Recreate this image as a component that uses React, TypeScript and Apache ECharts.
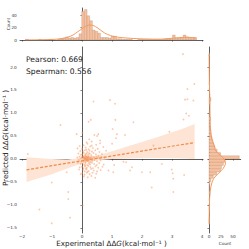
import React, { useEffect, useRef } from "react";
import * as echarts from "echarts";

const FONT = "DejaVu Sans";

const xTicks = [-2, -1, 0, 1, 2, 3, 4];
const yTicks = [-1.5, -1, -0.5, 0, 0.5, 1, 1.5, 2];
const topCountTicks = [0, 20, 40];
const rightCountTicks = [0, 25, 50];

const pearson = 0.669;
const spearman = 0.556;

// marginal histogram of experimental values (top)
const xBinStart = -1.88;
const xBinWidth = 0.089;
const xHistCounts = [
  1, 0, 0, 0, 0, 1, 0, 0, 0, 1, 0, 0, 1, 2, 3, 5, 3, 4, 3, 4, 10,
  46, 49, 39, 31, 16, 14, 11, 4, 4, 4, 3, 6, 6, 2, 2, 1, 1, 1, 1, 0, 0,
  1, 1, 1, 1, 1, 1, 1, 1, 1, 1, 2, 2, 2, 8, 3, 3, 4, 8, 5, 4, 4, 4, 0,
];

// marginal histogram of predicted values (right)
const yBinStart = -1.4;
const yBinWidth = 0.07;
const yHistCounts = [
  1, 1, 0, 0, 1, 1, 0, 1, 0, 2, 1, 1, 2, 4, 9, 16, 24, 26, 30, 33, 63,
  24, 17, 12, 10, 8, 6, 4, 4, 2, 2, 2, 3, 1, 1, 0, 0, 2, 4, 0, 0, 1, 0, 1,
  0, 0, 0, 0, 0, 0, 0, 0, 1,
];

const xKde = [
  [-1.9, 0.2], [-1.5, 0.3], [-1.2, 0.6], [-1.0, 0.9], [-0.8, 1.5], [-0.6, 3],
  [-0.45, 5], [-0.3, 8], [-0.15, 13], [0, 18], [0.1, 21.5], [0.2, 23.8],
  [0.3, 24], [0.4, 22.8], [0.5, 20], [0.6, 16.5], [0.7, 13], [0.8, 10],
  [0.9, 8], [1.0, 6.3], [1.2, 4.5], [1.4, 3.5], [1.6, 2.8], [1.8, 2.2],
  [2.0, 1.8], [2.2, 1.5], [2.5, 1.3], [2.7, 1.5], [2.9, 2.3], [3.1, 3.3],
  [3.3, 4], [3.5, 4.3], [3.65, 4], [3.8, 3.2],
];

const yKde = [
  [-1.42, 0.3], [-1.2, 0.5], [-1.0, 0.8], [-0.85, 1.3], [-0.7, 2.5], [-0.6, 4],
  [-0.5, 6.5], [-0.42, 10], [-0.35, 16], [-0.28, 23], [-0.2, 30], [-0.12, 34],
  [-0.05, 34], [0.02, 30], [0.08, 24], [0.14, 17], [0.2, 13], [0.26, 12],
  [0.32, 10], [0.4, 7], [0.5, 5], [0.6, 3.5], [0.75, 2.6], [0.9, 2.2],
  [1.1, 2], [1.3, 1.8], [1.5, 1.2], [1.7, 0.8], [2.0, 0.4], [2.28, 0.2],
];

const clusterPoints = [
  [0.05, 0.3], [0.18, 0.33], [0.32, 0.29], [0.47, 0.31], [-0.08, 0.28], [0.6, 0.34],
  [0.0, 0.22], [0.12, 0.25], [0.22, 0.21], [0.36, 0.24], [0.52, 0.22], [-0.15, 0.23], [0.71, 0.26], [0.27, 0.27],
  [0.03, 0.16], [0.09, 0.19], [0.17, 0.15], [0.25, 0.18], [0.33, 0.16], [0.44, 0.19], [0.58, 0.15], [-0.06, 0.17], [0.8, 0.18], [0.14, 0.2],
  [0.01, 0.1], [0.06, 0.13], [0.1, 0.08], [0.15, 0.12], [0.2, 0.09], [0.26, 0.11], [0.31, 0.08], [0.38, 0.13], [0.46, 0.1], [0.55, 0.07], [-0.04, 0.09], [-0.12, 0.12], [0.66, 0.11], [0.12, 0.1], [0.23, 0.13],
  [0.0, 0.02], [0.03, 0.05], [0.05, 0.01], [0.07, 0.04], [0.09, 0.0], [0.11, 0.06], [0.12, 0.02], [0.14, 0.04], [0.16, 0.01], [0.18, 0.05], [0.2, 0.02], [0.22, 0.06], [0.24, 0.0], [0.26, 0.04], [0.29, 0.02], [0.32, 0.05], [0.35, 0.01], [0.39, 0.04], [0.43, 0.02], [0.48, 0.05], [0.53, 0.03], [0.59, 0.01], [0.65, 0.05], [0.74, 0.03], [-0.02, 0.04], [-0.05, 0.01], [-0.09, 0.05], [-0.16, 0.03], [0.06, 0.03], [0.13, 0.0], [0.17, 0.03], [0.21, 0.04], [0.1, 0.03], [0.27, 0.01], [0.04, 0.06], [0.15, 0.06], [0.19, 0.0], [0.08, 0.02],
  [0.01, -0.03], [0.04, -0.05], [0.08, -0.02], [0.11, -0.06], [0.15, -0.03], [0.19, -0.05], [0.23, -0.02], [0.28, -0.06], [0.34, -0.04], [0.41, -0.02], [0.5, -0.05], [0.62, -0.03], [-0.03, -0.06], [-0.11, -0.02], [0.13, -0.01], [0.06, -0.04], [0.2, -0.04], [0.3, -0.01],
  [0.02, -0.1], [0.07, -0.12], [0.12, -0.09], [0.17, -0.13], [0.22, -0.1], [0.27, -0.12], [0.33, -0.08], [0.4, -0.11], [0.49, -0.13], [0.57, -0.09], [-0.05, -0.11], [-0.14, -0.08], [0.72, -0.12], [0.1, -0.14], [0.25, -0.08],
  [0.0, -0.17], [0.05, -0.2], [0.1, -0.16], [0.16, -0.19], [0.21, -0.15], [0.28, -0.18], [0.36, -0.2], [0.45, -0.16], [0.54, -0.19], [-0.08, -0.18], [0.68, -0.17], [0.13, -0.21],
  [0.03, -0.24], [0.09, -0.27], [0.15, -0.23], [0.22, -0.26], [0.3, -0.22], [0.39, -0.25], [0.5, -0.27], [-0.1, -0.23], [0.62, -0.24], [0.18, -0.28],
  [0.01, -0.31], [0.08, -0.34], [0.16, -0.3], [0.25, -0.33], [0.35, -0.3], [0.47, -0.32], [-0.04, -0.33],
  [0.06, -0.38], [0.19, -0.4], [0.31, -0.37], [0.44, -0.41],
];

const outlierPoints = [
  [0.38, 1.25], [0.93, 1.28], [0.29, 0.85], [0.22, 0.81], [-0.72, 0.74], [-0.18, 0.54], [0.01, 0.57],
  [0.41, 0.52], [0.5, 0.5], [0.54, 0.54], [0.24, 0.43], [0.15, 0.36], [0.32, 0.38], [0.6, 0.4],
  [1.11, 0.85], [3.36, 2.28], [3.74, 1.63], [3.51, 1.52], [3.43, 1.29], [3.51, 1.3], [3.71, 1.27],
  [1.1, 1.2], [3.47, 0.99], [3.56, 0.94], [3.38, 0.86], [1.71, 0.8], [1.02, 0.65], [1.16, 0.54],
  [1.43, 0.52], [1.13, 0.45], [2.91, 0.59], [1.0, 0.33], [2.38, 0.29], [-1.81, 0.11], [-1.01, -0.51],
  [-0.46, -0.72], [-0.46, -0.87], [-1.42, -1.1], [-0.4, -1.28], [-1.01, -1.4], [0.02, -1.01],
  [-0.51, -0.29], [0.88, -0.25], [1.04, -0.29], [1.38, -0.06], [1.47, -0.07], [1.6, -0.25],
  [1.66, -0.18], [1.99, -0.29], [2.27, -0.29], [2.32, -0.62], [2.99, -0.23], [3.02, -0.31],
  [3.04, -0.43], [3.04, -0.72], [2.66, -0.11], [3.4, -0.35], [1.07, -0.13],
];

const regLine = [[-1.85, -0.236], [3.75, 0.357]];
const bandX = [-1.85, -1.5, -1, -0.5, 0, 0.3, 0.6, 1, 1.5, 2, 2.5, 3, 3.4, 3.75];
const bandUpper = [0.04, 0.02, 0.0, -0.01, 0.02, 0.05, 0.09, 0.17, 0.27, 0.37, 0.47, 0.58, 0.67, 0.76];
const bandLower = [-0.5, -0.43, -0.33, -0.21, -0.1, -0.05, -0.02, 0.0, 0.01, 0.02, 0.02, 0.02, 0.01, 0.0];

const BAR_FILL = "#f8c09c";
const BAR_EDGE = "rgba(150,120,100,0.6)";
const KDE = "#f59a5e";
const AXIS = "#333";

export default function App() {
  const ref = useRef<HTMLDivElement>(null);
  useEffect(() => {
    if (!ref.current) return;
    const chart = echarts.init(ref.current, undefined, { renderer: "svg" });

    const tickLabel = { fontFamily: FONT, fontSize: 4.2, color: AXIS };
    const axisLine = { show: true, lineStyle: { color: AXIS, width: 0.8 } };
    const axisTick = (vals: number[]) => ({ show: true, length: 1.6, lineStyle: { color: AXIS, width: 0.6 }, customValues: vals });
    const fmt1 = (v: number) => (v < 0 ? "\u2212" : "") + Math.abs(v).toFixed(1);
    const fmt0 = (v: number) => (v < 0 ? "\u2212" : "") + Math.abs(v).toFixed(0);

    const topBars = xHistCounts
      .map((c, i) => [xBinStart + i * xBinWidth, xBinStart + (i + 1) * xBinWidth, c])
      .filter((d) => d[2] > 0);
    const rightBars = yHistCounts
      .map((c, i) => [yBinStart + i * yBinWidth, yBinStart + (i + 1) * yBinWidth, c])
      .filter((d) => d[2] > 0);

    const option: any = {
      animation: false,
      grid: [
        { left: 20, top: 47, width: 183, height: 186 },
        { left: 20, top: 8, width: 183, height: 32 },
        { left: 209, top: 47, width: 31.7, height: 186 },
      ],
      xAxis: [
        {
          type: "value", gridIndex: 0, min: -2.067, max: 4.03,
          axisLine, axisTick: axisTick(xTicks), splitLine: { show: false },
          axisLabel: { ...tickLabel, margin: 1, customValues: xTicks, formatter: fmt0 },
        },
        {
          type: "value", gridIndex: 1, min: -2.067, max: 4.03,
          axisLine, axisTick: axisTick(xTicks), splitLine: { show: false },
          axisLabel: { show: false, customValues: xTicks },
        },
        {
          type: "value", gridIndex: 2, min: 0, max: 66,
          axisLine, axisTick: axisTick(rightCountTicks), splitLine: { show: false },
          axisLabel: { ...tickLabel, margin: 1, customValues: rightCountTicks },
        },
      ],
      yAxis: [
        {
          type: "value", gridIndex: 0, min: -1.61, max: 2.435,
          axisLine, axisTick: axisTick(yTicks), splitLine: { show: false },
          axisLabel: { ...tickLabel, margin: 3.2, customValues: yTicks, formatter: fmt1 },
        },
        {
          type: "value", gridIndex: 1, min: 0, max: 51.5,
          axisLine, axisTick: axisTick(topCountTicks), splitLine: { show: false },
          axisLabel: { ...tickLabel, margin: 3.2, customValues: topCountTicks },
        },
        {
          type: "value", gridIndex: 2, min: -1.61, max: 2.435,
          axisLine, axisTick: axisTick(yTicks), splitLine: { show: false },
          axisLabel: { show: false, customValues: yTicks },
        },
      ],
      series: [
        {
          type: "custom", xAxisIndex: 0, yAxisIndex: 0, z: 1,
          data: [[bandX[0], bandLower[0]]],
          renderItem: (_p: any, api: any) => {
            const pts: number[][] = [];
            for (let i = 0; i < bandX.length; i++) pts.push(api.coord([bandX[i], bandUpper[i]]));
            for (let i = bandX.length - 1; i >= 0; i--) pts.push(api.coord([bandX[i], bandLower[i]]));
            return { type: "polygon", shape: { points: pts }, style: { fill: "#fde4d4" } };
          },
        },
        {
          type: "scatter", xAxisIndex: 0, yAxisIndex: 0, z: 2,
          symbolSize: 1.8,
          itemStyle: { color: "rgba(244,145,85,0.6)" },
          data: [...clusterPoints, ...outlierPoints],
        },
        {
          type: "line", xAxisIndex: 0, yAxisIndex: 0, z: 3,
          data: regLine, showSymbol: false, symbol: "none",
          lineStyle: { color: "#f08a48", width: 1.2, type: [3, 1.6] },
        },
        {
          type: "custom", xAxisIndex: 1, yAxisIndex: 1,
          data: topBars,
          encode: { x: [0, 1], y: 2 },
          renderItem: (_p: any, api: any) => {
            const p0 = api.coord([api.value(0), 0]);
            const p1 = api.coord([api.value(1), api.value(2)]);
            return {
              type: "rect",
              shape: { x: p0[0], y: p1[1], width: p1[0] - p0[0], height: p0[1] - p1[1] },
              style: { fill: BAR_FILL, stroke: BAR_EDGE, lineWidth: 0.4 },
            };
          },
        },
        {
          type: "line", xAxisIndex: 1, yAxisIndex: 1, z: 3,
          data: xKde, showSymbol: false, symbol: "none", smooth: 0.3,
          lineStyle: { color: KDE, width: 1 },
        },
        {
          type: "custom", xAxisIndex: 2, yAxisIndex: 2,
          data: rightBars,
          encode: { y: [0, 1], x: 2 },
          renderItem: (_p: any, api: any) => {
            const p0 = api.coord([0, api.value(0)]);
            const p1 = api.coord([api.value(2), api.value(1)]);
            return {
              type: "rect",
              shape: { x: p0[0], y: p1[1], width: p1[0] - p0[0], height: p0[1] - p1[1] },
              style: { fill: BAR_FILL, stroke: BAR_EDGE, lineWidth: 0.4 },
            };
          },
        },
        {
          type: "line", xAxisIndex: 2, yAxisIndex: 2, z: 3,
          data: yKde.map((d) => [d[1], d[0]]), showSymbol: false, symbol: "none",
          lineStyle: { color: KDE, width: 1 },
        },
      ],
      graphic: [
        {
          type: "text", left: 26, top: 55,
          style: { text: "Pearson: " + pearson.toFixed(3), font: `7.6px "${FONT}"`, fill: "#222" },
        },
        {
          type: "text", left: 26, top: 67,
          style: { text: "Spearman: " + spearman.toFixed(3), font: `7.6px "${FONT}"`, fill: "#222" },
        },
        {
          type: "text", x: 111.5, y: 239.6,
          style: {
            text: "Experimental \u0394\u0394{i|G}(kcal\u00b7mol\u207b\u00b9 )",
            font: `7.2px "${FONT}"`, fill: "#222", align: "center", verticalAlign: "top",
            rich: { i: { fontStyle: "italic", fontSize: 7.2, fontFamily: FONT, fill: "#222" } },
          },
        },
        {
          type: "text", x: 5.5, y: 138, rotation: Math.PI / 2,
          style: {
            text: "Predicted \u0394\u0394{i|G}(kcal\u00b7mol\u207b\u00b9 )",
            font: `7.2px "${FONT}"`, fill: "#222", align: "center", verticalAlign: "middle",
            rich: { i: { fontStyle: "italic", fontSize: 7.2, fontFamily: FONT, fill: "#222" } },
          },
        },
        {
          type: "text", x: 8, y: 24, rotation: Math.PI / 2,
          style: { text: "Count", font: `4.2px "${FONT}"`, fill: AXIS, align: "center", verticalAlign: "middle" },
        },
        {
          type: "text", x: 225, y: 243,
          style: { text: "Count", font: `4.2px "${FONT}"`, fill: AXIS, align: "center", verticalAlign: "middle" },
        },
      ],
    };
    chart.setOption(option);
    return () => chart.dispose();
  }, []);
  return (
    <div
      ref={ref}
      style={{ position: "absolute", left: 0, top: 0, width: 249, height: 249, background: "#fff" }}
    />
  );
}
